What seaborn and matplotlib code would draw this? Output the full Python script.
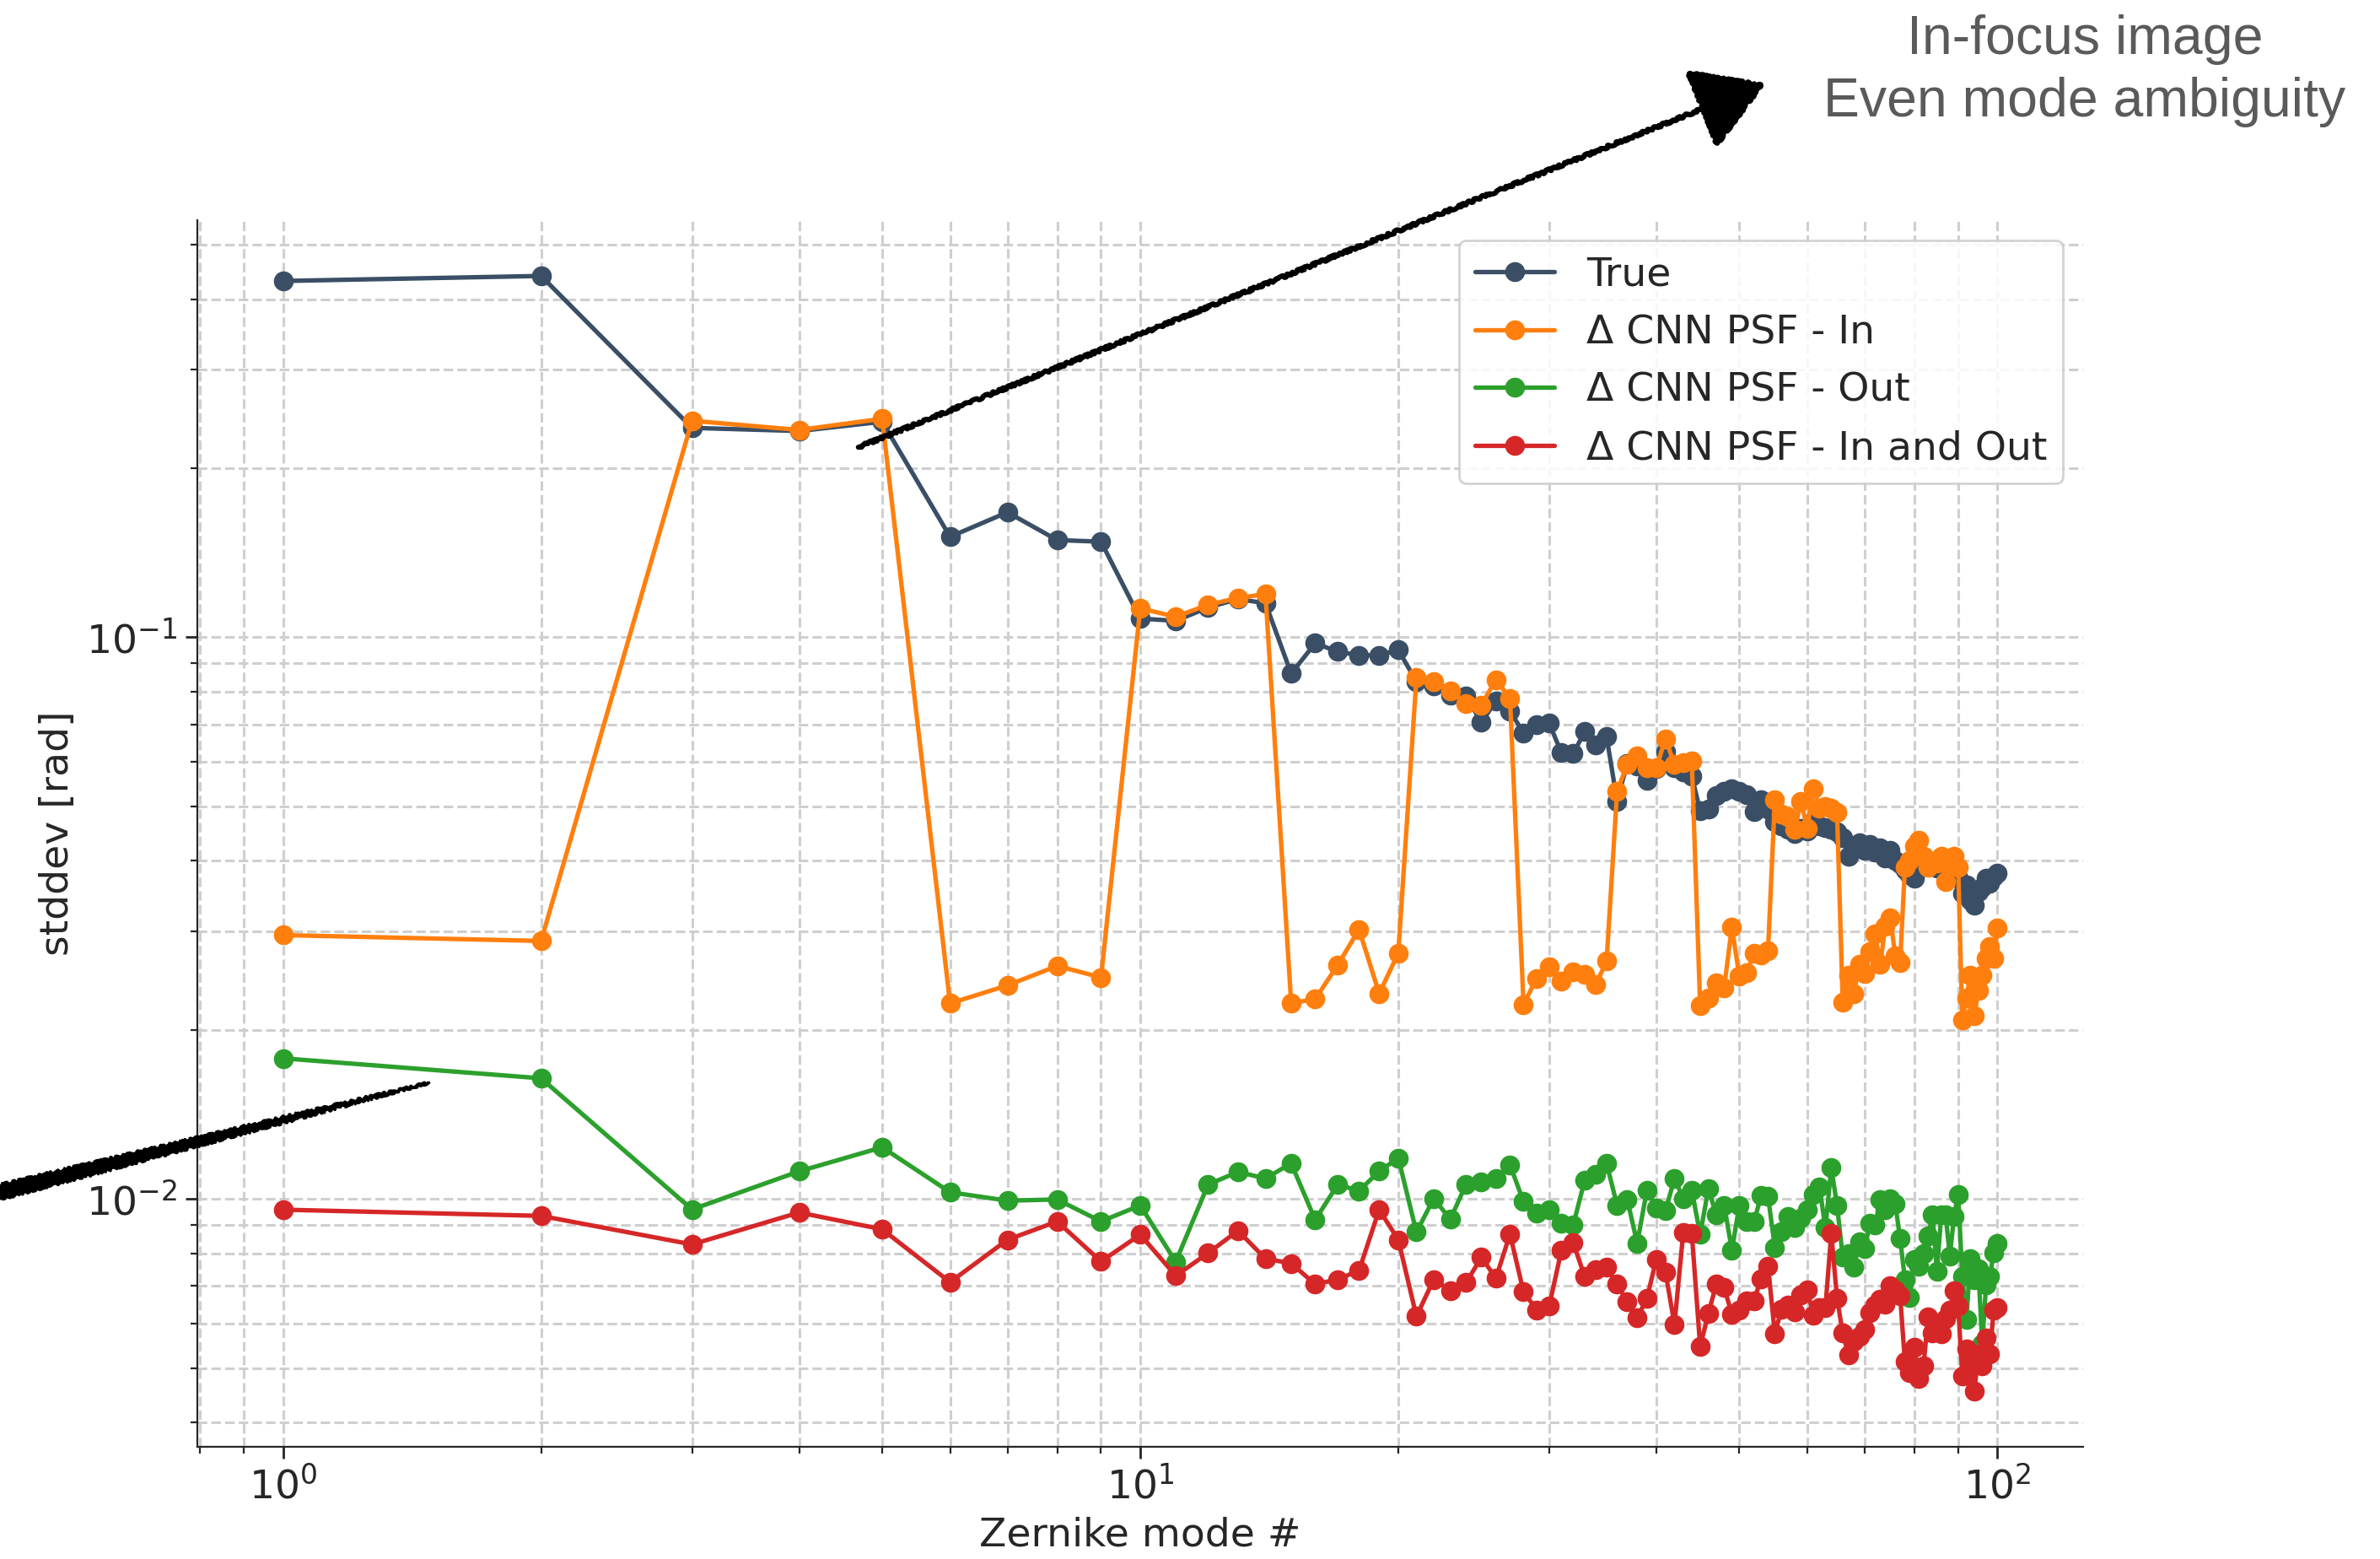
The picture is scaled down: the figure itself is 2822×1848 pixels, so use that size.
import numpy as np
import pandas as pd
import matplotlib
matplotlib.use("Agg")
import matplotlib.pyplot as plt
import seaborn as sns

# ---------------- data ----------------
modes = list(range(1, 101))

true_vals = [
    0.431, 0.440, 0.236, 0.233, 0.242, 0.151, 0.167, 0.149, 0.148, 0.108,
    0.107, 0.113, 0.117, 0.115, 0.0862, 0.0976, 0.0943, 0.0929, 0.0929, 0.0950,
    0.0834, 0.0819, 0.0789, 0.0785, 0.0706, 0.0770, 0.0739, 0.0676, 0.0700, 0.0703,
    0.0623, 0.0621, 0.0679, 0.0643, 0.0665, 0.0511, 0.0597, 0.0590, 0.0556, 0.0584,
    0.0625, 0.0587, 0.0575, 0.0566, 0.0491, 0.0495, 0.0522, 0.0531, 0.0537, 0.0531,
    0.0525, 0.0490, 0.0513, 0.0495, 0.0470, 0.0462, 0.0455, 0.0447, 0.0457, 0.0452,
    0.0470, 0.0462, 0.0458, 0.0455, 0.0450, 0.0440, 0.0407, 0.0420, 0.0430, 0.0418,
    0.0428, 0.0415, 0.0422, 0.0405, 0.0418, 0.0400, 0.0395, 0.0385, 0.0378, 0.0372,
    0.0410, 0.0405, 0.0398, 0.0392, 0.0388, 0.0390, 0.0382, 0.0385, 0.0378, 0.0372,
    0.0350, 0.0362, 0.0340, 0.0333, 0.0352, 0.0358, 0.0372, 0.0365, 0.0375, 0.0380,
]

cnn_in = [
    0.0295, 0.0288, 0.243, 0.234, 0.245, 0.0223, 0.0240, 0.0260, 0.0248, 0.1126,
    0.1088, 0.1143, 0.1175, 0.1194, 0.0223, 0.0227, 0.0261, 0.0302, 0.0232, 0.0274,
    0.0847, 0.0834, 0.0804, 0.0763, 0.0757, 0.0841, 0.0778, 0.0222, 0.0247, 0.0259,
    0.0244, 0.0254, 0.0251, 0.0241, 0.0265, 0.0532, 0.0594, 0.0616, 0.0586, 0.0586,
    0.0660, 0.0594, 0.0599, 0.0603, 0.0221, 0.0228, 0.0243, 0.0238, 0.0305, 0.0249,
    0.0253, 0.0274, 0.0272, 0.0277, 0.0514, 0.0484, 0.0479, 0.0455, 0.0510, 0.0457,
    0.0537, 0.0496, 0.0500, 0.0497, 0.0488, 0.0224, 0.0250, 0.0232, 0.0262, 0.0252,
    0.0276, 0.0296, 0.0262, 0.0306, 0.0317, 0.0271, 0.0264, 0.0390, 0.0401, 0.0425,
    0.0435, 0.0408, 0.0390, 0.0399, 0.0397, 0.0408, 0.0368, 0.0395, 0.0408, 0.0390,
    0.0208, 0.0228, 0.0250, 0.0212, 0.0235, 0.0250, 0.0268, 0.0281, 0.0268, 0.0304,
]

cnn_out = [
    0.0178, 0.0164, 0.00958, 0.0112, 0.01236, 0.01028, 0.00993, 0.00998, 0.00912, 0.00974,
    0.00773, 0.01061, 0.01117, 0.01088, 0.01157, 0.00918, 0.01061, 0.01034, 0.0112, 0.01183,
    0.00873, 0.01002, 0.0092, 0.01063, 0.01074, 0.01086, 0.0115, 0.00989, 0.00944, 0.00957,
    0.00904, 0.00899, 0.0108, 0.01105, 0.01157, 0.00974, 0.00997, 0.00834, 0.01037, 0.00963,
    0.00952, 0.01089, 0.01002, 0.01037, 0.00864, 0.01043, 0.00936, 0.00974, 0.00811, 0.00974,
    0.0091, 0.0091, 0.01014, 0.0101, 0.0082, 0.00873, 0.0093, 0.00889, 0.00925, 0.00957,
    0.0102, 0.0105, 0.00889, 0.01137, 0.00974, 0.00788, 0.0080, 0.00757, 0.0084, 0.00815,
    0.00904, 0.00899, 0.00997, 0.00957, 0.0100, 0.0098, 0.0085, 0.00719, 0.00667, 0.0078,
    0.0076, 0.0080, 0.00859, 0.00936, 0.00744, 0.00936, 0.00936, 0.00792, 0.0093, 0.0102,
    0.00727, 0.0061, 0.00783, 0.00719, 0.0075, 0.00552, 0.00703, 0.00727, 0.00802, 0.00834,
]

cnn_inout = [
    0.00957, 0.00933, 0.0083, 0.00946, 0.00883, 0.00711, 0.00846, 0.00912, 0.00774, 0.00864,
    0.00730, 0.00801, 0.00878, 0.00783, 0.00768, 0.00705, 0.00719, 0.00746, 0.00957, 0.00846,
    0.00618, 0.00719, 0.00687, 0.0071, 0.00787, 0.00723, 0.00866, 0.00683, 0.00635, 0.00645,
    0.0081, 0.00836, 0.00727, 0.00748, 0.00755, 0.00705, 0.00656, 0.00614, 0.00665, 0.00781,
    0.0074, 0.00598, 0.00871, 0.00869, 0.00546, 0.00625, 0.00706, 0.00695, 0.00624, 0.00634,
    0.00659, 0.00659, 0.00721, 0.0076, 0.00575, 0.00637, 0.00648, 0.0063, 0.00675, 0.0069,
    0.0062, 0.00641, 0.00641, 0.00869, 0.00665, 0.00577, 0.00528, 0.00558, 0.0057, 0.00585,
    0.00627, 0.00648, 0.00664, 0.0065, 0.00701, 0.0069, 0.00673, 0.00513, 0.0049, 0.00544,
    0.00479, 0.00504, 0.00617, 0.00578, 0.00591, 0.00575, 0.00613, 0.00634, 0.00687, 0.00644,
    0.00484, 0.0054, 0.0051, 0.00455, 0.0053, 0.00504, 0.00565, 0.0053, 0.00634, 0.00641,
]

series_names = ["True", "\u0394 CNN PSF - In", "\u0394 CNN PSF - Out", "\u0394 CNN PSF - In and Out"]
series_colors = ["#3a4f66", "#ff7f0e", "#2ca02c", "#d62728"]

annotation_lines = ["In-focus image", "Even mode ambiguity"]

# ---------------- build long table ----------------
frames = []
for name, vals in zip(series_names, [true_vals, cnn_in, cnn_out, cnn_inout]):
    frames.append(pd.DataFrame({"mode": modes, "value": vals, "series": name}))
df = pd.concat(frames, ignore_index=True)

# ---------------- figure ----------------
sns.set_style("ticks")
plt.rcParams["font.family"] = ["DejaVu Sans"]
FS = 17

W, H = 2822, 1848
fig = plt.figure(figsize=(W / 200, H / 200), dpi=200)
ax = fig.add_axes([234 / W, 1 - 1715 / H, (2470 - 234) / W, (1715 - 261) / H])

sns.lineplot(
    data=df, x="mode", y="value", hue="series", hue_order=series_names,
    palette=series_colors, marker="o", markersize=8.5, markeredgewidth=0,
    linewidth=1.9, estimator=None, sort=False, ax=ax, legend=False,
)

ax.set_xscale("log")
ax.set_yscale("log")
ax.grid(True, which="both", ls="--", color="#cfcfcf", lw=1.1)
ax.set_axisbelow(True)
sns.despine(ax=ax)
ax.tick_params(axis="both", which="major", labelsize=FS, length=5, width=1)
ax.tick_params(axis="both", which="minor", length=3, width=0.8)
ax.set_xlabel("Zernike mode #", fontsize=FS)
ax.set_ylabel("stddev [rad]", fontsize=FS)

handles = ax.lines[:4]
leg = ax.legend(handles, series_names, loc="upper right", fontsize=FS,
                frameon=True, fancybox=True, framealpha=0.85, edgecolor="#cccccc")

# ---------------- annotations ----------------
fig.text(2472 / W, 1 - 84 / H, "\n".join(annotation_lines), ha="center", va="center",
         fontsize=23.2, color="#5a5a5a", family=["Liberation Sans", "DejaVu Sans"],
         linespacing=1.3)

arr = ax.annotate(
    "", xy=(2093, H - 99), xycoords="figure pixels",
    xytext=(4.69, 0.218), textcoords="data",
    arrowprops=dict(arrowstyle="-|>,head_length=0.66,head_width=0.4",
                    mutation_scale=40, lw=2.2, color="black",
                    shrinkA=0, shrinkB=0),
    annotation_clip=False,
)
arr.arrow_patch.set_sketch_params(scale=1.5, length=12, randomness=8)

arr2 = ax.annotate(
    "", xy=(1.48, 0.0161), xycoords="data",
    xytext=(-0.06, 0.212), textcoords="figure fraction",
    arrowprops=dict(arrowstyle="wedge,tail_width=0.6,shrink_factor=0.6",
                    mutation_scale=12, lw=1.2, color="black",
                    shrinkA=0, shrinkB=0),
    annotation_clip=False,
)
arr2.arrow_patch.set_sketch_params(scale=1.5, length=12, randomness=8)

fig.savefig("out.png", dpi=200)
